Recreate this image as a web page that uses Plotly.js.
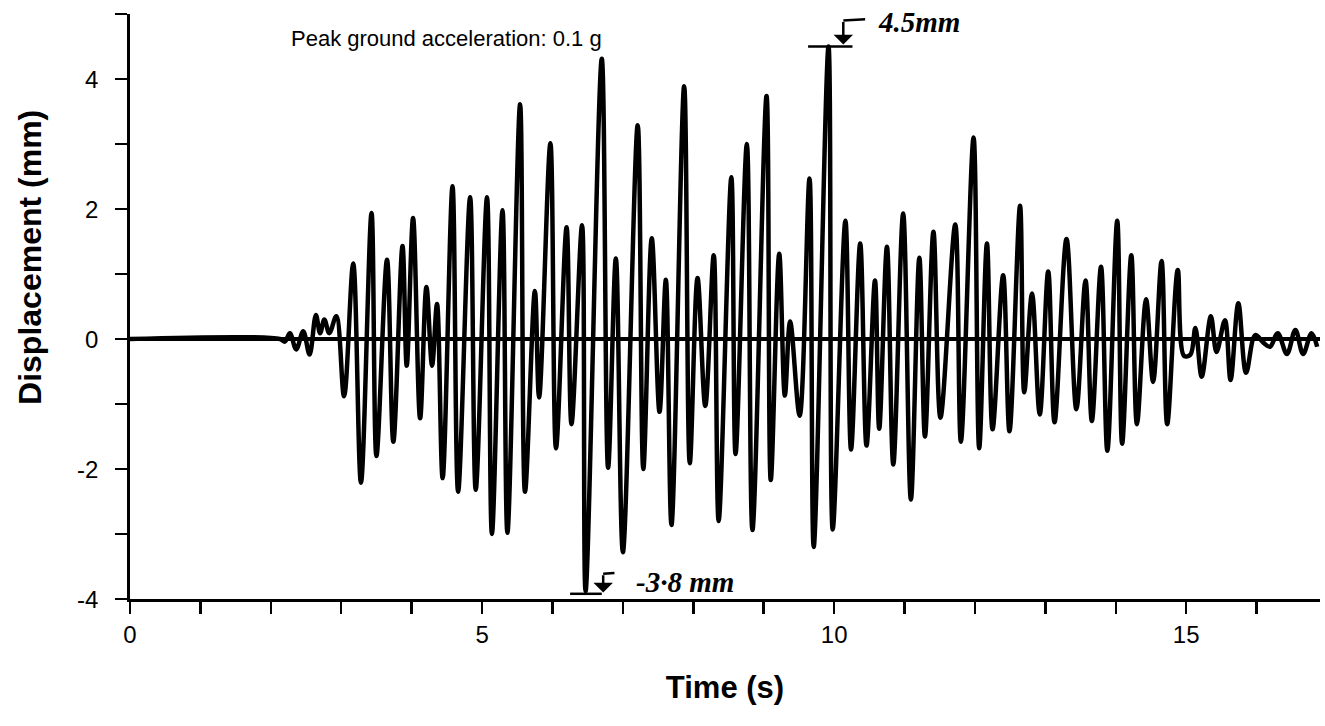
<!DOCTYPE html>
<html>
<head>
<meta charset="utf-8">
<script src="https://cdn.plot.ly/plotly-3.0.1.min.js"></script>
<style>html,body{margin:0;padding:0;background:#fff;}#chart{width:1325px;height:726px;}</style>
</head>
<body>
<div id="chart"></div>
<script>
// Time (s) of each turning point of the trace
const timeS = [0, 2.13, 2.20, 2.27, 2.36, 2.46, 2.55, 2.64, 2.70, 2.76, 2.83, 2.93, 3.04, 3.17, 3.28, 3.43, 3.50, 3.65, 3.74, 3.87,
  3.93, 4.02, 4.12, 4.21, 4.29, 4.36, 4.44, 4.58, 4.66, 4.83, 4.91, 5.07, 5.14, 5.29, 5.36, 5.54, 5.61, 5.75, 5.81, 5.97,
  6.05, 6.20, 6.27, 6.42, 6.47, 6.70, 6.79, 6.90, 7.00, 7.21, 7.29, 7.41, 7.52, 7.61, 7.69, 7.87, 7.95, 8.06, 8.17, 8.29,
  8.36, 8.54, 8.60, 8.76, 8.84, 9.04, 9.10, 9.22, 9.30, 9.375, 9.51, 9.65, 9.71, 9.92, 9.98, 10.16, 10.24, 10.37, 10.46, 10.58,
  10.64, 10.75, 10.84, 10.98, 11.09, 11.21, 11.29, 11.41, 11.51, 11.72, 11.80, 11.98, 12.06, 12.17, 12.25, 12.40, 12.49, 12.64, 12.70, 12.81,
  12.92, 13.04, 13.13, 13.30, 13.44, 13.57, 13.66, 13.79, 13.88, 14.02, 14.09, 14.22, 14.30, 14.43, 14.53, 14.65, 14.73, 14.88, 14.97, 15.06,
  15.13, 15.22, 15.35, 15.43, 15.55, 15.63, 15.74, 15.85, 15.98, 16.10, 16.19, 16.30, 16.43, 16.55, 16.66, 16.78, 16.86];
// Displacement (mm) at those points
const dispMM = [0, 0, -0.04, 0.09, -0.16, 0.12, -0.24, 0.37, 0.09, 0.30, 0.09, 0.35, -0.88, 1.16, -2.21, 1.94, -1.80, 1.22, -1.58, 1.43,
  -0.41, 1.86, -1.22, 0.80, -0.41, 0.54, -2.14, 2.35, -2.35, 2.18, -2.32, 2.18, -3.0, 1.98, -2.98, 3.61, -2.35, 0.74, -0.90, 3.01,
  -1.68, 1.72, -1.31, 1.75, -3.88, 4.31, -1.98, 1.24, -3.28, 3.29, -2.0, 1.55, -1.12, 0.91, -2.86, 3.89, -1.91, 0.94, -1.03, 1.29,
  -2.8, 2.49, -1.77, 3.0, -2.94, 3.74, -2.17, 1.31, -0.87, 0.27, -1.18, 2.47, -3.2, 4.5, -2.93, 1.82, -1.70, 1.47, -1.64, 0.90,
  -1.38, 1.42, -1.93, 1.93, -2.47, 1.25, -1.50, 1.65, -1.21, 1.76, -1.58, 3.1, -1.68, 1.47, -1.39, 0.98, -1.42, 2.05, -0.82, 0.70,
  -1.16, 1.04, -1.28, 1.54, -1.08, 0.9, -1.26, 1.11, -1.72, 1.82, -1.61, 1.29, -1.31, 0.61, -0.66, 1.20, -1.31, 1.06, -0.26, -0.24,
  0.17, -0.58, 0.35, -0.2, 0.29, -0.63, 0.55, -0.52, 0.06, -0.06, -0.12, 0.09, -0.23, 0.14, -0.23, 0.09, -0.12];

const xTickVals = [0, 5, 10, 15];
const yTickVals = [-4, -2, 0, 2, 4];
const chartNote = 'Peak ground acceleration: 0.1 g';
const peakMax = {t: 9.92, v: 4.5, label: '4.5mm'};
const peakMin = {t: 6.47, v: -3.88, label: '-3·8 mm'};

const trace = {
  x: timeS, y: dispMM, type: 'scatter', mode: 'lines',
  line: {color: '#000', width: 4.5, shape: 'spline', smoothing: 1},
  hoverinfo: 'x+y', showlegend: false
};

const tickFont = {family: 'Liberation Sans, Arial, sans-serif', size: 24, color: '#000'};
const hand = {family: 'Liberation Serif, DejaVu Serif, serif', size: 29, color: '#000', style: 'italic', weight: 'bold'};

// y tick labels placed a little further from the axis, as in the original
const yLabelNotes = yTickVals.map(v => ({
  xref: 'paper', yref: 'y', x: 0, y: v, xshift: -30, xanchor: 'right', yanchor: 'middle',
  text: String(v), showarrow: false, font: tickFont
}));

const layout = {
  width: 1325, height: 726,
  margin: {l: 130, r: 5, t: 14, b: 127},
  paper_bgcolor: '#fff', plot_bgcolor: '#fff',
  showlegend: false,
  xaxis: {
    range: [0, 16.9], tickvals: xTickVals, ticktext: xTickVals.map(String),
    ticks: 'outside', ticklen: 12, tickwidth: 2.5, tickcolor: '#000',
    minor: {dtick: 1, tick0: 0, ticks: 'outside', ticklen: 12, tickwidth: 2.5, tickcolor: '#000', showgrid: false},
    showline: true, linewidth: 3, linecolor: '#000', showgrid: false, zeroline: false,
    tickfont: tickFont,
    title: {text: '<b>Time (s)</b>', font: {family: 'Liberation Sans, Arial, sans-serif', size: 31, color: '#000'}, standoff: 30}
  },
  yaxis: {
    range: [-4, 5], tickvals: yTickVals, showticklabels: false,
    ticks: 'outside', ticklen: 12, tickwidth: 2.5, tickcolor: '#000',
    minor: {dtick: 1, tick0: 0, ticks: 'outside', ticklen: 12, tickwidth: 2.5, tickcolor: '#000', showgrid: false},
    showline: true, linewidth: 3, linecolor: '#000', showgrid: false,
    zeroline: true, zerolinewidth: 4, zerolinecolor: '#000'
  },
  shapes: [
    {type: 'line', xref: 'x', yref: 'y', x0: 9.63, x1: 10.26, y0: 4.5, y1: 4.5, line: {color: '#000', width: 2.5}},
    {type: 'line', xref: 'x', yref: 'y', x0: 10.13, x1: 10.44, y0: 4.9, y1: 4.92, line: {color: '#000', width: 2.5}},
    {type: 'line', xref: 'x', yref: 'y', x0: 6.25, x1: 6.70, y0: -3.92, y1: -3.92, line: {color: '#000', width: 2.5}},
    {type: 'line', xref: 'x', yref: 'y', x0: 6.72, x1: 6.88, y0: -3.61, y1: -3.60, line: {color: '#000', width: 2.5}}
  ],
  annotations: yLabelNotes.concat([
    {xref: 'x', yref: 'y', x: 4.5, y: 4.63, text: chartNote, showarrow: false,
     font: {family: 'Liberation Sans, Arial, sans-serif', size: 22, color: '#000'}, xanchor: 'center', yanchor: 'middle'},
    {xref: 'x', yref: 'y', x: 11.2, y: 4.88, text: peakMax.label, showarrow: false, font: hand, xanchor: 'center', yanchor: 'middle'},
    {xref: 'x', yref: 'y', x: 7.88, y: -3.74, text: peakMin.label, showarrow: false, font: hand, xanchor: 'center', yanchor: 'middle'},
    {xref: 'x', yref: 'y', x: 10.13, y: 4.53, axref: 'x', ayref: 'y', ax: 10.13, ay: 4.9, text: '',
     showarrow: true, arrowhead: 1, arrowsize: 1.3, arrowwidth: 2.5, arrowcolor: '#000'},
    {xref: 'x', yref: 'y', x: 6.72, y: -3.90, axref: 'x', ayref: 'y', ax: 6.72, ay: -3.61, text: '',
     showarrow: true, arrowhead: 1, arrowsize: 1.3, arrowwidth: 2.5, arrowcolor: '#000'},
    {xref: 'paper', yref: 'paper', x: 0, xshift: -100, y: 0.583, text: '<b>Displacement (mm)</b>', textangle: -90,
     showarrow: false, font: {family: 'Liberation Sans, Arial, sans-serif', size: 32, color: '#000'}, xanchor: 'center', yanchor: 'middle'}
  ])
};

Plotly.newPlot('chart', [trace], layout, {displayModeBar: false, staticPlot: true});
</script>
</body>
</html>
